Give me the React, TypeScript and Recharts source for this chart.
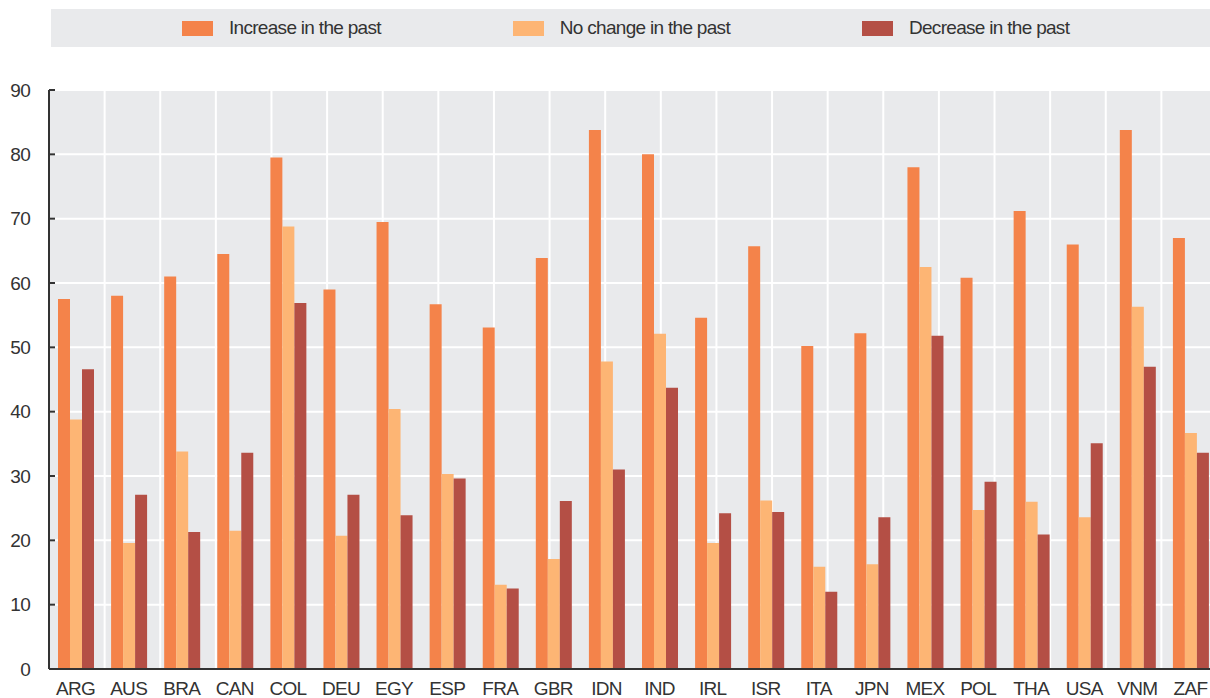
import React from "react";
import {
  BarChart,
  Bar,
  XAxis,
  YAxis,
  CartesianGrid,
} from "recharts";

const categories = [
  "ARG", "AUS", "BRA", "CAN", "COL", "DEU", "EGY", "ESP", "FRA", "GBR", "IDN",
  "IND", "IRL", "ISR", "ITA", "JPN", "MEX", "POL", "THA", "USA", "VNM", "ZAF",
];
const increase = [
  57.5, 58.0, 61.0, 64.5, 79.5, 59.0, 69.5, 56.7, 53.1, 63.9, 83.8,
  80.0, 54.6, 65.7, 50.2, 52.2, 78.0, 60.8, 71.2, 66.0, 83.8, 67.0,
];
const noChange = [
  38.8, 19.6, 33.8, 21.5, 68.8, 20.7, 40.4, 30.3, 13.1, 17.1, 47.8,
  52.1, 19.6, 26.2, 15.9, 16.3, 62.5, 24.7, 26.0, 23.6, 56.3, 36.7,
];
const decrease = [
  46.6, 27.1, 21.3, 33.6, 56.9, 27.1, 23.9, 29.6, 12.5, 26.1, 31.0,
  43.7, 24.2, 24.4, 12.0, 23.6, 51.8, 29.1, 20.9, 35.1, 47.0, 33.6,
];
const yTicks = [0, 10, 20, 30, 40, 50, 60, 70, 80, 90];
const seriesNames = ["Increase in the past", "No change in the past", "Decrease in the past"];

const COLORS = ["#f4834a", "#fdb574", "#b44f45"];
const BG = "#e9eaec";
const INK = "#333333";
const FONT = '"Liberation Sans", Arial, sans-serif';
const SPACING = -0.7;

const data = categories.map((c, i) => ({
  country: c,
  increase: increase[i],
  noChange: noChange[i],
  decrease: decrease[i],
}));

// band edges, used for the vertical grid and the small inward ticks
const edges = categories.map((_, i) => i).concat([categories.length]);

function YTick({ x, y, payload }: any) {
  return (
    <g>
      <line x1={x} y1={y} x2={x + 6} y2={y} stroke={INK} strokeWidth={2} />
      <text
        x={x - 19}
        y={y}
        dy="0.35em"
        textAnchor="end"
        fill={INK}
        fontSize={19}
        letterSpacing={SPACING}
        fontFamily={FONT}
      >
        {payload.value}
      </text>
    </g>
  );
}

function EdgeTick({ x, y, payload }: any) {
  if (payload.value === 0) return <g />;
  return <line x1={x} y1={y} x2={x} y2={y - 6} stroke={INK} strokeWidth={1.5} />;
}

function XTick({ x, y, payload }: any) {
  return (
    <text
      x={x}
      y={y + 13}
      dy="0.71em"
      textAnchor="middle"
      fill={INK}
      fontSize={19}
      letterSpacing={SPACING}
      fontFamily={FONT}
    >
      {payload.value}
    </text>
  );
}

function LegendBox() {
  return (
    <div
      style={{
        position: "absolute",
        left: 51,
        top: 9,
        width: 1170,
        height: 38,
        background: BG,
        display: "flex",
        alignItems: "center",
        paddingLeft: 131,
        boxSizing: "border-box",
        gap: 132,
        fontFamily: FONT,
        fontSize: 19,
        letterSpacing: SPACING,
        color: INK,
      }}
    >
      {seriesNames.map((name, i) => (
        <div key={name} style={{ display: "flex", alignItems: "center" }}>
          <span
            style={{
              display: "inline-block",
              width: 31,
              height: 15,
              background: COLORS[i],
              marginRight: 16,
            }}
          />
          <span>{name}</span>
        </div>
      ))}
    </div>
  );
}

export default function App() {
  return (
    <div
      style={{
        position: "absolute",
        left: 0,
        top: 0,
        width: 1210,
        height: 698,
        overflow: "hidden",
        background: "#fff",
      }}
    >
      <LegendBox />
      <BarChart
        width={1217}
        height={698}
        data={data}
        margin={{ top: 90, right: 0, left: 0, bottom: 0 }}
        barCategoryGap={9}
        barGap={0}
      >
        <XAxis
          xAxisId="edges"
          type="number"
          domain={[0, categories.length]}
          ticks={edges}
          interval={0}
          height={0}
          axisLine={false}
          tickLine={false}
          tickSize={0}
          tickMargin={0}
          tick={<EdgeTick />}
        />
        <XAxis
          dataKey="country"
          interval={0}
          height={29}
          axisLine={{ stroke: INK, strokeWidth: 2 }}
          tickLine={false}
          tickSize={0}
          tickMargin={0}
          tick={<XTick />}
        />
        <YAxis
          domain={[0, 90]}
          ticks={yTicks}
          width={49}
          axisLine={{ stroke: INK, strokeWidth: 2 }}
          tickLine={false}
          tickSize={0}
          tickMargin={0}
          tick={<YTick />}
        />
        <CartesianGrid
          xAxisId="edges"
          fill={BG}
          fillOpacity={1}
          stroke="#ffffff"
          strokeWidth={2}
        />
        <Bar dataKey="increase" fill={COLORS[0]} isAnimationActive={false} />
        <Bar dataKey="noChange" fill={COLORS[1]} isAnimationActive={false} />
        <Bar dataKey="decrease" fill={COLORS[2]} isAnimationActive={false} />
      </BarChart>
    </div>
  );
}
